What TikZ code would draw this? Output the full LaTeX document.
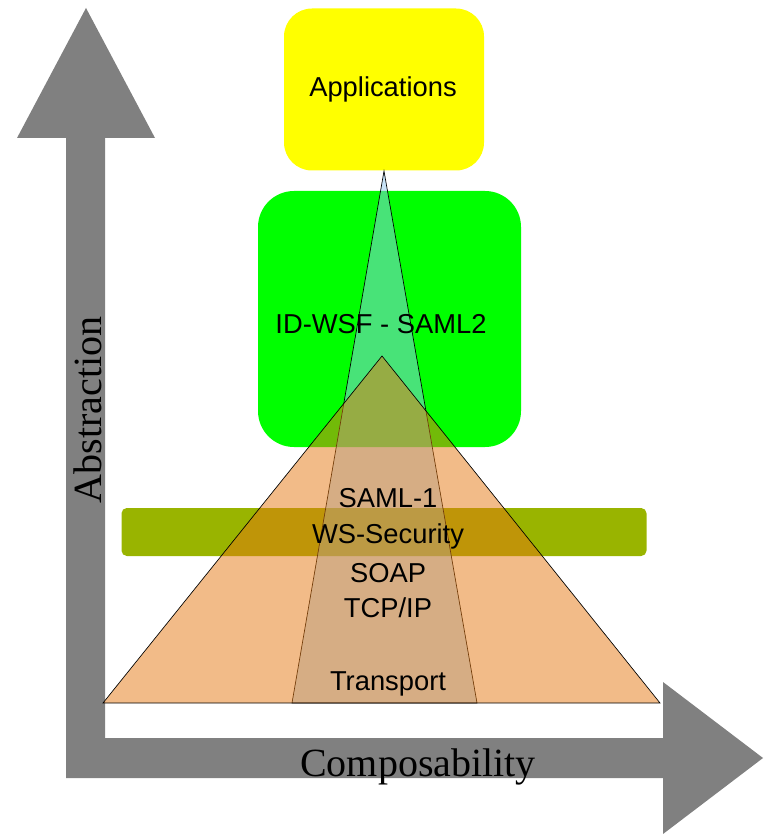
\documentclass[tikz,border=0pt]{standalone}
\usepackage{fontspec}
\setmainfont{Liberation Serif}
\setsansfont{Liberation Sans}
\definecolor{axisgray}{RGB}{128,128,128}
\definecolor{appyellow}{RGB}{255,255,0}
\definecolor{idgreen}{RGB}{0,255,0}
\definecolor{barolive}{RGB}{153,180,0}
\definecolor{stackorange}{RGB}{229,119,17}
\definecolor{stackblue}{RGB}{145,200,240}
\tikzset{
  layer/.style={inner sep=0.75pt, anchor=base, font=\fontsize{20.5}{24}\selectfont\sffamily},
  axislabel/.style={inner sep=0.75pt, anchor=base, font=\fontsize{30}{36}\selectfont},
  box/.style={draw=none, inner sep=0pt}
}
\begin{document}
\begin{tikzpicture}[x=0.75pt,y=0.75pt,yscale=-1,xscale=1]
\useasboundingbox (0,0) rectangle (764,834);

%Shape: Axes
\fill [axisgray] (66,778) -- (66,138) -- (17,138) -- (86,8) -- (155,138) -- (105,138) -- (105,738) -- (663,738) -- (663,682) -- (763,758) -- (663,834) -- (663,778) -- cycle ;

%Shape: Rounded Rectangles
\node (appbox) [box, fill=appyellow, rounded corners=21pt, minimum width=150pt, minimum height=121.5pt] at (384,89.5) {};
\node (idbox) [box, fill=idgreen, rounded corners=27pt, minimum width=197.25pt, minimum height=192pt] at (389.5,319) {};
\node (secbar) [box, fill=barolive, rounded corners=4pt, minimum width=393.75pt, minimum height=36pt] at (384,532) {};

%Shape: Triangles
\draw [line width=0.5pt, fill=stackblue, fill opacity=0.5] (292,703) -- (477,703) -- (384,171) -- cycle ;
\draw [line width=0.5pt, fill=stackorange, fill opacity=0.5] (103,703) -- (660,703) -- (382,356) -- cycle ;

% Text Node
\node (apps) [layer] at (383,97) {Applications};
% Text Node
\node (idwsf) [layer] at (381,333) {ID-WSF - SAML2};
% Text Node
\node (saml) [layer] at (388,507) {SAML-1};
% Text Node
\node (wssec) [layer] at (388,543) {WS-Security};
% Text Node
\node (soap) [layer] at (388,582) {SOAP};
% Text Node
\node (tcpip) [layer] at (388,617) {TCP/IP};
% Text Node
\node (transport) [layer] at (388,690) {Transport};
% Text Node
\node (abstraction) [axislabel, rotate=90] at (101,410) {Abstraction};
% Text Node
\node (composability) [axislabel] at (418,776) {Composability};

\end{tikzpicture}
\end{document}
